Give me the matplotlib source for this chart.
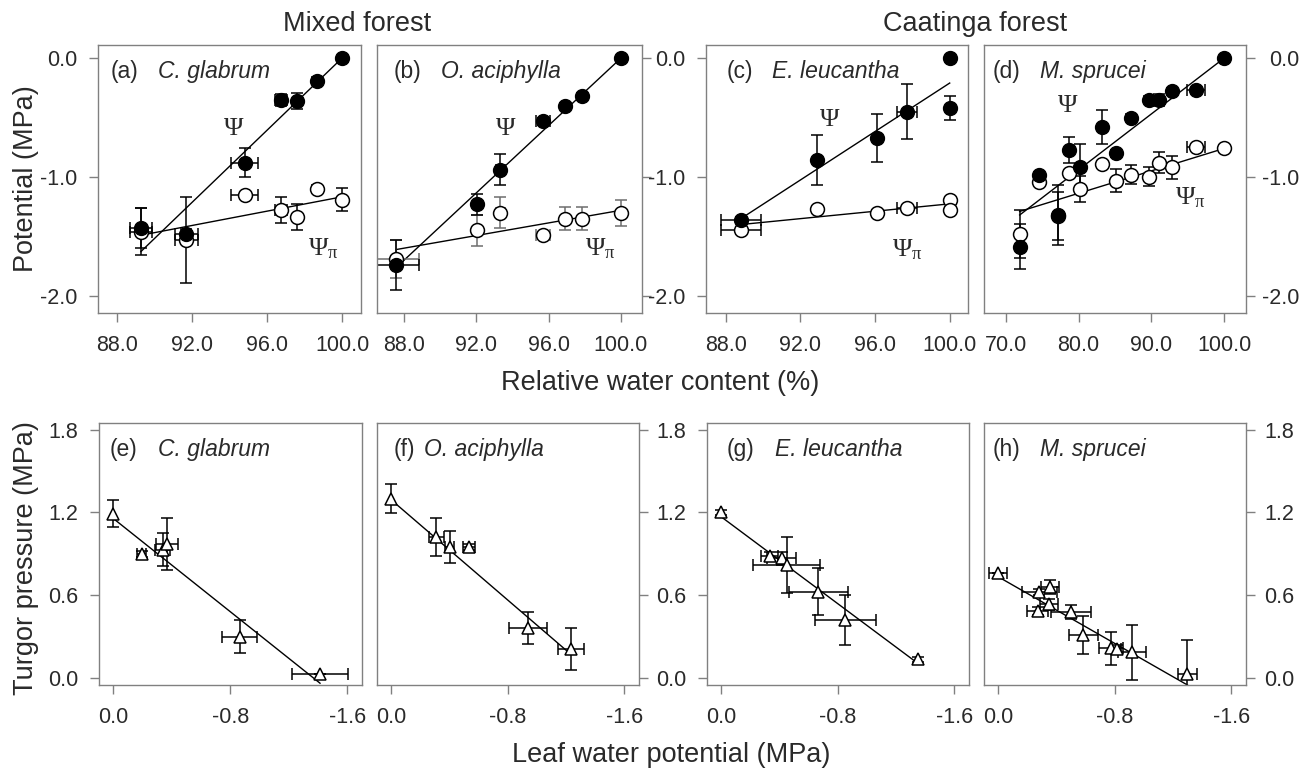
import numpy as np
import matplotlib.pyplot as plt

plt.rcParams['font.family'] = ['Liberation Sans', 'DejaVu Sans']
plt.rcParams['axes.unicode_minus'] = False
plt.rcParams['mathtext.fontset'] = 'custom'
plt.rcParams['mathtext.rm'] = 'Liberation Serif'
plt.rcParams['mathtext.it'] = 'Liberation Serif:italic'

W, H = 1314, 771
GREY = '#808080'
TXT = '#2a2a2a'

# ---- top row: potential vs relative water content ----
# (a) C. glabrum
rwc_a = [100.0, 98.65, 97.6, 96.75, 94.8, 91.7, 89.28]
rwc_a_err = [0.0, 0.0, 0.1, 0.3, 0.73, 0.62, 0.58]
psi_a = [0.0, -0.19, -0.36, -0.35, -0.88, -1.48, -1.43]
psi_a_err = [0.0, 0.03, 0.07, 0.05, 0.12, 0.04, 0.17]
pi_a = [-1.19, -1.10, -1.34, -1.28, -1.155, -1.53, -1.46]
pi_a_err = [0.10, 0.03, 0.11, 0.11, 0.0, 0.36, 0.20]
fit_psi_a = [(89.28, 100.0), (-1.627, 0.0)]
fit_pi_a = [(89.28, 100.0), (-1.49, -1.167)]

# (b) O. aciphylla
rwc_b = [100.0, 97.82, 96.93, 95.7, 93.34, 92.05, 87.6]
rwc_b_err = [0.0, 0.0, 0.0, 0.4, 0.25, 0.0, 1.24]
psi_b = [0.0, -0.32, -0.40, -0.53, -0.94, -1.23, -1.74]
psi_b_err = [0.0, 0.03, 0.02, 0.03, 0.13, 0.09, 0.21]
pi_b = [-1.30, -1.35, -1.35, -1.49, -1.30, -1.45, -1.69]
pi_b_err = [0.11, 0.10, 0.10, 0.02, 0.13, 0.13, 0.16]
fit_psi_b = [(87.6, 100.0), (-1.76, 0.0)]
fit_pi_b = [(87.6, 100.0), (-1.61, -1.28)]

# (c) E. leucantha
rwc_c = [100.0, 100.0, 97.73, 96.1, 92.87, 88.82]
rwc_c_err = [0.0, 0.0, 0.53, 0.1, 0.0, 1.07]
psi_c = [0.0, -0.42, -0.45, -0.67, -0.86, -1.36]
psi_c_err = [0.0, 0.10, 0.23, 0.20, 0.21, 0.02]
pi_c = [-1.19, -1.28, -1.265, -1.30, -1.27, -1.45]
pi_c_err = [0.0, 0.0, 0.0, 0.0, 0.0, 0.03]
fit_psi_c = [(88.82, 100.0), (-1.35, -0.21)]
fit_pi_c = [(88.82, 100.0), (-1.40, -1.226)]

# (d) M. sprucei
rwc_d = [100.0, 96.15, 92.9, 91.1, 89.7, 87.2, 85.2, 83.2, 80.2, 78.7, 77.1, 74.6, 71.9]
rwc_d_err = [0.0, 1.26, 0.0, 0.0, 0.0, 0.0, 0.0, 0.0, 0.0, 0.0, 0.0, 0.0, 0.0]
psi_d = [0.0, -0.27, -0.28, -0.35, -0.35, -0.50, -0.80, -0.58, -0.92, -0.77, -1.32, -0.98, -1.585]
psi_d_err = [0.0, 0.02, 0.03, 0.05, 0.03, 0.03, 0.03, 0.14, 0.20, 0.11, 0.25, 0.02, 0.19]
pi_d = [-0.76, -0.75, -0.92, -0.88, -1.0, -0.98, -1.03, -0.89, -1.10, -0.97, -1.33, -1.04, -1.48]
pi_d_err = [0.03, 0.0, 0.10, 0.09, 0.08, 0.08, 0.10, 0.0, 0.11, 0.0, 0.20, 0.0, 0.20]
fit_psi_d = [(71.9, 100.0), (-1.32, 0.0)]
fit_pi_d = [(71.9, 100.0), (-1.29, -0.76)]

# ---- bottom row: turgor pressure vs leaf water potential ----
lwp_e = [0.0, -0.195, -0.338, -0.366, -0.864, -1.413]
lwp_e_err = [0.0, 0.03, 0.05, 0.075, 0.12, 0.19]
tp_e = [1.19, 0.896, 0.93, 0.97, 0.297, 0.027]
tp_e_err = [0.10, 0.02, 0.12, 0.19, 0.12, 0.0]
fit_e = [(0.0, -1.413), (1.155, -0.04)]

lwp_f = [0.0, -0.309, -0.40, -0.535, -0.937, -1.232]
lwp_f_err = [0.0, 0.05, 0.03, 0.04, 0.13, 0.09]
tp_f = [1.30, 1.02, 0.95, 0.95, 0.36, 0.21]
tp_f_err = [0.106, 0.136, 0.118, 0.02, 0.117, 0.153]
fit_f = [(0.0, -1.232), (1.29, 0.17)]

lwp_g = [0.0, -0.331, -0.416, -0.45, -0.667, -0.85, -1.349]
lwp_g_err = [0.0, 0.06, 0.10, 0.23, 0.20, 0.21, 0.0]
tp_g = [1.2, 0.88, 0.865, 0.817, 0.623, 0.418, 0.133]
tp_g_err = [0.02, 0.03, 0.05, 0.205, 0.17, 0.18, 0.02]
fit_g = [(0.0, -1.349), (1.167, 0.104)]

lwp_h = [0.0, -0.282, -0.355, -0.27, -0.348, -0.499, -0.584, -0.774, -0.813, -0.916, -1.298]
lwp_h_err = [0.063, 0.12, 0.06, 0.07, 0.06, 0.134, 0.10, 0.08, 0.03, 0.095, 0.063]
tp_h = [0.757, 0.623, 0.66, 0.486, 0.534, 0.478, 0.309, 0.213, 0.21, 0.184, 0.027]
tp_h_err = [0.0, 0.02, 0.05, 0.03, 0.04, 0.05, 0.14, 0.12, 0.03, 0.20, 0.25]
fit_h = [(0.0, -1.298), (0.732, -0.053)]

letters = ['(a)', '(b)', '(c)', '(d)', '(e)', '(f)', '(g)', '(h)']
species = ['C. glabrum', 'O. aciphylla', 'E. leucantha', 'M. sprucei',
           'C. glabrum', 'O. aciphylla', 'E. leucantha', 'M. sprucei']
letter_dx = [12.7, 16.6, 20.7, 8.7, 11, 16.6, 20, 8.7]
species_dx = [60, 64.3, 65.7, 56, 59.3, 46.6, 68, 56]

top_ticks = [[88, 92, 96, 100]] * 3 + [[70, 80, 90, 100]]
top_xlim = [(86.99, 101.01), (86.53, 101.16), (86.95, 100.98), (67.0, 103.0)]
psi_pos = [(94.2, -0.644), (93.62, -0.644), (93.56, -0.568), (78.46, -0.455)]
pi_pos = [(98.19, -1.66), (98.04, -1.66), (96.93, -1.67), (93.26, -1.23)]

top_boxes = [(98, 361), (377, 642), (706, 968), (984, 1246)]
bot_boxes = [(99, 362), (377, 639), (707, 969), (984, 1246)]
sides = ['left', 'right', 'left', 'right']

fig = plt.figure(figsize=(W / 100, H / 100), dpi=100)


def panel_axes(x0, x1, y0, y1):
    return fig.add_axes([x0 / W, 1 - y1 / H, (x1 - x0) / W, (y1 - y0) / H])


def style(ax, side, labels):
    for s in ax.spines.values():
        s.set_color(GREY)
        s.set_linewidth(1.0)
    ax.tick_params(axis='both', direction='out', length=6.5, width=1.0, color=GREY,
                   labelcolor=TXT, labelsize=15.5)
    ax.tick_params(axis='x', pad=9)
    if side == 'left':
        ax.tick_params(axis='y', left=True, right=False, labelleft=labels, labelright=False, pad=8.5)
    else:
        ax.tick_params(axis='y', left=False, right=True, labelleft=False, labelright=labels)


def tag(ax, i):
    ax.annotate(letters[i], xy=(0, 1), xycoords='axes fraction', xytext=(letter_dx[i], -26.7),
                textcoords='offset pixels', ha='left', va='center', fontsize=16.5, color=TXT)
    ax.annotate(species[i], xy=(0, 1), xycoords='axes fraction', xytext=(species_dx[i], -26.7),
                textcoords='offset pixels', ha='left', va='center', fontsize=16.5, color=TXT,
                style='italic')


top = [(rwc_a, rwc_a_err, psi_a, psi_a_err, pi_a, pi_a_err, fit_psi_a, fit_pi_a),
       (rwc_b, rwc_b_err, psi_b, psi_b_err, pi_b, pi_b_err, fit_psi_b, fit_pi_b),
       (rwc_c, rwc_c_err, psi_c, psi_c_err, pi_c, pi_c_err, fit_psi_c, fit_pi_c),
       (rwc_d, rwc_d_err, psi_d, psi_d_err, pi_d, pi_d_err, fit_psi_d, fit_pi_d)]

bottom = [(lwp_e, lwp_e_err, tp_e, tp_e_err, fit_e),
          (lwp_f, lwp_f_err, tp_f, tp_f_err, fit_f),
          (lwp_g, lwp_g_err, tp_g, tp_g_err, fit_g),
          (lwp_h, lwp_h_err, tp_h, tp_h_err, fit_h)]

axes_top, axes_bot = [], []
for i, (x, xe, ps, pse, pi, pie, fps, fpi) in enumerate(top):
    ax = panel_axes(top_boxes[i][0], top_boxes[i][1], 45, 313)
    pi_col = '#6e6e6e' if i == 1 else 'k'
    ax.plot(fps[0], fps[1], color='k', lw=1.0, zorder=1)
    ax.plot(fpi[0], fpi[1], color='k', lw=1.0, zorder=1)
    ax.errorbar(x, pi, xerr=xe, yerr=pie, fmt='none', ecolor=pi_col, elinewidth=1.1,
                capsize=4.3, capthick=1.1, zorder=2)
    ax.errorbar(x, ps, xerr=xe, yerr=pse, fmt='none', ecolor='k', elinewidth=1.1,
                capsize=4.3, capthick=1.1, zorder=2)
    ax.plot(x, pi, 'o', ms=10, mfc='white', mec='k', mew=1.1, zorder=3)
    ax.plot(x, ps, 'o', ms=10, mfc='k', mec='k', zorder=4)
    ax.text(psi_pos[i][0], psi_pos[i][1], r'$\Psi$', fontsize=19, ha='center', va='baseline', color=TXT)
    ax.text(pi_pos[i][0], pi_pos[i][1], r'$\Psi_{\mathrm{\pi}}$', fontsize=19, ha='left',
            va='baseline', color=TXT)
    ax.set_xlim(*top_xlim[i])
    ax.set_ylim(-2.144, 0.11)
    ax.set_xticks(top_ticks[i])
    ax.set_xticklabels(['%.1f' % t for t in top_ticks[i]])
    ax.set_yticks([-2.0, -1.0, 0.0])
    ax.set_yticklabels(['-2.0', '-1.0', '0.0'])
    style(ax, sides[i], i in (0, 2, 3))
    tag(ax, i)
    axes_top.append(ax)

for i, (x, xe, tp, tpe, fit) in enumerate(bottom):
    ax = panel_axes(bot_boxes[i][0], bot_boxes[i][1], 423, 685)
    ax.plot(fit[0], fit[1], color='k', lw=1.0, zorder=1)
    ax.errorbar(x, tp, xerr=xe, yerr=tpe, fmt='none', ecolor='k', elinewidth=1.1,
                capsize=4.3, capthick=1.1, zorder=2)
    ax.plot(x, tp, '^', ms=9, mfc='white', mec='k', mew=1.1, zorder=3)
    ax.set_xlim(0.098, -1.70)
    ax.set_ylim(-0.053, 1.848)
    ax.set_xticks([0.0, -0.8, -1.6])
    ax.set_xticklabels(['0.0', '-0.8', '-1.6'])
    ax.set_yticks([0.0, 0.6, 1.2, 1.8])
    ax.set_yticklabels(['0.0', '0.6', '1.2', '1.8'])
    style(ax, sides[i], i in (0, 2, 3))
    tag(ax, i + 4)
    axes_bot.append(ax)

fig.text(357 / W, 1 - 31 / H, 'Mixed forest', ha='center', va='baseline', fontsize=19.5, color=TXT)
fig.text(975 / W, 1 - 31 / H, 'Caatinga forest', ha='center', va='baseline', fontsize=19.5, color=TXT)
fig.text(660 / W, 1 - 383 / H, 'Relative water content (%)', ha='center', va='center',
         fontsize=19.5, color=TXT)
fig.text(671 / W, 1 - 755 / H, 'Leaf water potential (MPa)', ha='center', va='center',
         fontsize=19.5, color=TXT)
fig.text(26 / W, 1 - 179 / H, 'Potential (MPa)', rotation=90, ha='center', va='center',
         fontsize=19.5, color=TXT)
fig.text(26 / W, 1 - 558 / H, 'Turgor pressure (MPa)', rotation=90, ha='center', va='center',
         fontsize=19.5, color=TXT)

# right-side labels are right aligned, like the original
fig.canvas.draw()
r = fig.canvas.get_renderer()
for ax, gap in [(axes_top[3], 5), (axes_bot[3], 6.5)]:
    w = max(t.get_window_extent(r).width for t in ax.get_yticklabels())
    ax.tick_params(axis='y', pad=gap + w * 72 / fig.dpi)
    for t in ax.get_yticklabels():
        t.set_horizontalalignment('right')

fig.savefig('out.png', dpi=100)
